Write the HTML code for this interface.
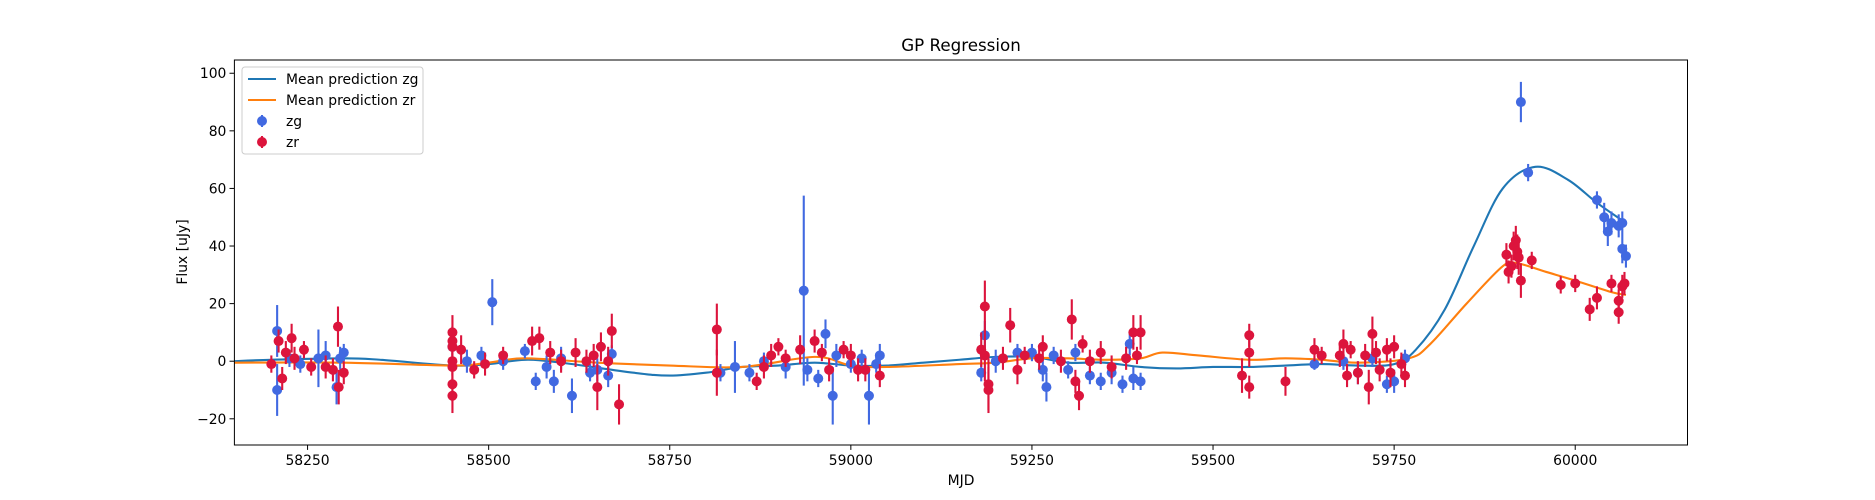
<!DOCTYPE html>
<html><head><meta charset="utf-8"><style>
body{margin:0;background:#fff}
svg{display:block;font-family:"DejaVu Sans","Liberation Sans",sans-serif}
</style></head><body>
<svg id="chart" width="1875" height="500" viewBox="0 0 1875 500">
<rect width="1875" height="500" fill="#fff"/>
<text x="961" y="51" font-size="16.7" text-anchor="middle">GP Regression</text>
<text x="961" y="485" font-size="13.9" text-anchor="middle">MJD</text>
<text transform="translate(187,252) rotate(-90)" font-size="13.9" text-anchor="middle">Flux [uJy]</text>
<g id="plot"></g>
<g id="axes"></g>
<g id="legend"></g>
</svg>
<script>
const xTicks=[58250,58500,58750,59000,59250,59500,59750,60000];
const yTicks=[-20,0,20,40,60,80,100];
const zgMjd=[58208,58208,58225,58240,58265,58275,58290,58295,58300,58450,58470,58490,58505,58520,58550,58565,58580,58590,58600,58615,58640,58650,58665,58670,58820,58840,58860,58880,58910,58935,58940,58955,58965,58975,58980,59000,59015,59025,59040,59035,59180,59185,59200,59230,59250,59265,59270,59280,59300,59310,59330,59345,59360,59375,59385,59390,59400,59640,59680,59700,59720,59740,59750,59765,59925,59935,60030,60040,60045,60050,60060,60065,60065,60070];
const zgFlux=[10.5,-10,1,-1,1,2,-9,1,3,5,0,2,20.5,0,3.5,-7,-2,-7,1,-12,-4,-3,-5,2.5,-4,-2,-4,0,-2,24.5,-3,-6,9.5,-12,2,-1,1,-12,2,-1,-4,9,0,3,3,-3,-9,2,-3,3,-5,-7,-4,-8,6,-6,-7,-1,0,-4,1,-8,-7,1,90,65.5,56,50,45,48,47,39,48,36.5];
const zgErr=[9,9,3,3,10,5,6,4,3,7,4,3,8,3,2.5,3,4,4,4,6,3,4,4,3,3,9,3,3,4,33,4,3,5,10,4,3,3,10,4,3,3,5,4,3,3,4,5,3,3,3,3,3,4,3,4,4,3,2,3,4,3,3,4,3,7,3,3,5,5,4,4,5,4,4];
const zrMjd=[58200,58210,58215,58220,58228,58232,58245,58255,58275,58285,58292,58293,58300,58450,58450,58450,58450,58450,58450,58450,58462,58480,58495,58520,58560,58570,58585,58600,58620,58635,58645,58650,58655,58665,58670,58680,58815,58815,58870,58880,58890,58900,58910,58930,58950,58960,58970,58990,59000,59010,59020,59040,59180,59185,59185,59190,59190,59210,59220,59230,59240,59260,59265,59290,59305,59310,59315,59320,59330,59345,59360,59380,59390,59400,59395,59540,59550,59550,59550,59600,59640,59650,59675,59680,59685,59690,59700,59710,59715,59720,59725,59730,59740,59745,59750,59760,59765,59905,59908,59912,59915,59918,59920,59922,59925,59940,59980,60000,60020,60030,60050,60060,60060,60065,60068];
const zrFlux=[-1,7,-6,3,8,1,4,-2,-2,-3,12,-9,-4,10,7,5,0,-2,-8,-12,4,-3,-1,2,7,8,3,0,3,0,2,-9,5,0,10.5,-15,11,-4,-7,-2,2,5,1,4,7,3,-3,4,2,-3,-3,-5,4,19,2,-8,-10,1,12.5,-3,2,1,5,0,14.5,-7,-12,6,0,3,-2,1,10,10,2,-5,9,3,-9,-7,4,2,2,6,-5,4,-4,2,-9,9.5,3,-3,4,-4,5,-1,-5,37,31,33,40,42,38,36,28,35,26.5,27,18,22,27,21,17,26,27];
const zrErr=[3,4,4,4,5,4,3,3,4,4,7,6,4,6,5,4,5,5,6,6,5,3,4,3,5,4,4,4,5,4,4,8,5,5,6,7,9,8,3,4,4,3,3,5,4,3,4,3,4,4,4,4,6,9,9,9,8,4,6,5,3,4,4,4,7,4,5,3,4,4,4,4,6,6,3,6,4,5,4,5,4,3,4,5,4,3,4,4,6,6,4,4,4,5,4,4,4,4,4,4,5,5,6,6,6,3,3,3,4,4,3,4,4,4,4];
const gMeanX=[58149,58200,58300,58350,58450,58500,58550,58600,58700,58750,58800,58850,58900,58950,59000,59050,59100,59150,59200,59250,59300,59350,59400,59450,59500,59550,59600,59650,59700,59750,59780,59820,59860,59900,59945,59990,60030,60070];
const gMeanY=[0,0.5,1,0.5,-1.5,-1,0.5,-0.5,-4,-5,-4,-2,-1.5,-0.5,-1.5,-1.5,-0.5,0.5,1.5,1.5,-0.5,-0.5,-2,-2.5,-2,-2,-1.5,-1,-1.5,-1,4,18,40,60,67.5,63,55,48];
const rMeanX=[58149,58300,58450,58500,58550,58650,58750,58850,58950,59000,59050,59150,59200,59250,59300,59350,59400,59430,59480,59550,59600,59650,59700,59770,59800,59850,59900,59920,59960,60000,60050,60070];
const rMeanY=[-0.5,-0.5,-1.5,-0.5,1,-0.5,-1.5,-2,1.5,-1.5,-2,-1,-0.5,1,1,0.5,1,3,2,0.5,1,0.5,-0.5,1,6,20,33,34,31,28,24,23];

const L=234.4,R=1687.5,T=60,B=445,X0=58149,X1=60155,Y0=-29.1,Y1=104.6;
const sx=v=>L+(v-X0)/(X1-X0)*(R-L);
const sy=v=>B-(v-Y0)/(Y1-Y0)*(B-T);
const NS='http://www.w3.org/2000/svg';
function mk(tag,attrs,parent){const e=document.createElementNS(NS,tag);for(const k in attrs)e.setAttribute(k,attrs[k]);parent.appendChild(e);return e;}
const plot=document.getElementById('plot'),axes=document.getElementById('axes'),leg=document.getElementById('legend');

function smooth(xs,ys){
  const p=xs.map((x,i)=>[sx(x),sy(ys[i])]);
  let d='M'+p[0][0]+','+p[0][1];
  for(let i=0;i<p.length-1;i++){
    const p0=p[i-1]||p[i],p1=p[i],p2=p[i+1],p3=p[i+2]||p2;
    const c1=[p1[0]+(p2[0]-p0[0])/6,p1[1]+(p2[1]-p0[1])/6];
    const c2=[p2[0]-(p3[0]-p1[0])/6,p2[1]-(p3[1]-p1[1])/6];
    d+='C'+c1+' '+c2+' '+p2;
  }
  return d;
}
function points(xs,ys,es,col,name){
  const g=mk('g',{},plot);
  
  
  xs.forEach((x,i)=>{
    const ln=mk('line',{x1:sx(x),x2:sx(x),y1:sy(ys[i]-es[i]),y2:sy(ys[i]+es[i]),stroke:col,'stroke-width':2.1},g);
    
    
    const c=mk('circle',{cx:sx(x),cy:sy(ys[i]),r:5,fill:col},g);
    
    
  });
}
const clip=mk('clipPath',{id:'clp'},plot);mk('rect',{x:L,y:T,width:R-L,height:B-T},clip);
const gl=mk('path',{d:smooth(gMeanX,gMeanY),fill:'none',stroke:'#1f77b4','stroke-width':2.1,'clip-path':'url(#clp)'},plot);


const rl=mk('path',{d:smooth(rMeanX,rMeanY),fill:'none',stroke:'#ff7f0e','stroke-width':2.1,'clip-path':'url(#clp)'},plot);


points(zgMjd,zgFlux,zgErr,'#4169e1','zg');
points(zrMjd,zrFlux,zrErr,'#dc143c','zr');

const frame=mk('rect',{x:L,y:T,width:R-L,height:B-T,fill:'none',stroke:'#000','stroke-width':1},axes);


xTicks.forEach(t=>{
  const l=mk('line',{x1:sx(t),x2:sx(t),y1:B,y2:B+4.9,stroke:'#000'},axes);
  
  
  const tx=mk('text',{x:sx(t),y:B+20,'font-size':13.9,'text-anchor':'middle'},axes);
  tx.textContent=t;
  
  
});
yTicks.forEach(t=>{
  const l=mk('line',{x1:L-4.9,x2:L,y1:sy(t),y2:sy(t),stroke:'#000'},axes);
  
  
  const tx=mk('text',{x:L-8,y:sy(t)+5,'font-size':13.9,'text-anchor':'end'},axes);
  tx.textContent=(t<0?'\u2212'+(-t):t);
  
  
});
const box=mk('rect',{x:242,y:67,width:181,height:87,rx:3,fill:'#fff','fill-opacity':0.8,stroke:'#ccc'},leg);


const ents=[['Mean prediction zg','#1f77b4','line'],['Mean prediction zr','#ff7f0e','line'],['zg','#4169e1','pt'],['zr','#dc143c','pt']];
ents.forEach((e,i)=>{
  const y=79+i*21;
  const g=mk('g',{},leg);
  
  
  if(e[2]==='line'){mk('line',{x1:248,x2:276,y1:y,y2:y,stroke:e[1],'stroke-width':2.1},g);}
  else{mk('line',{x1:262,x2:262,y1:y-6,y2:y+6,stroke:e[1],'stroke-width':2.1},g);mk('circle',{cx:262,cy:y,r:5,fill:e[1]},g);}
  const t=mk('text',{x:286,y:y+5,'font-size':13.9},g);t.textContent=e[0];
});
</script>
</body></html>
